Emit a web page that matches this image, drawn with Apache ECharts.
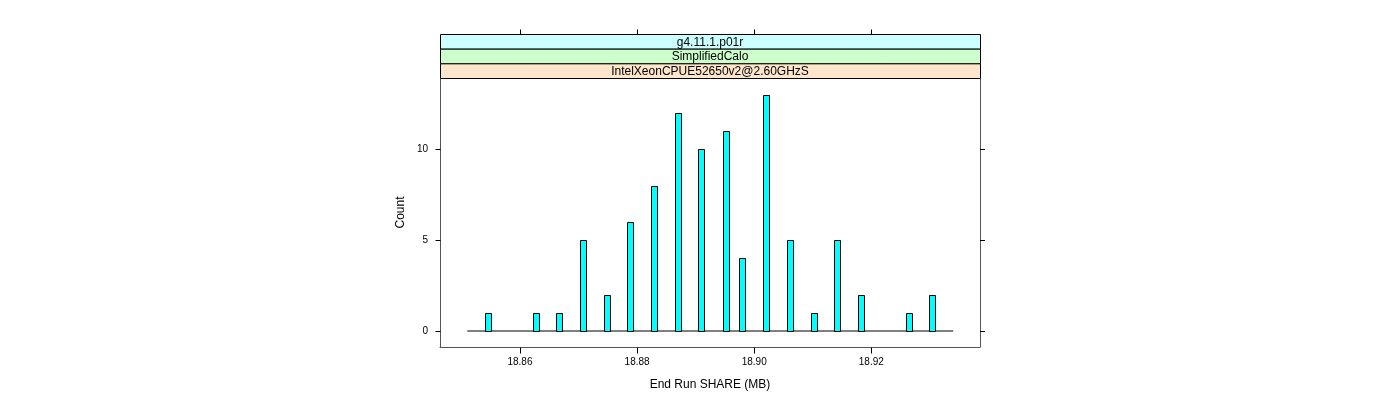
<!DOCTYPE html>
<html>
<head>
<meta charset="utf-8">
<style>html,body{margin:0;padding:0;background:#fff;}#c{width:1400px;height:400px;}</style>
<script src="https://cdn.jsdelivr.net/npm/echarts@6/dist/echarts.min.js"></script>
</head>
<body>
<div id="c"></div>
<script>
// Data
const binCenters = [18.8546, 18.8627, 18.8667, 18.8708, 18.8748, 18.8788, 18.8829, 18.8870, 18.8910,
  18.8951, 18.8980, 18.9021, 18.9062, 18.9102, 18.9142, 18.9183, 18.9264, 18.9304];
const counts = [1, 1, 1, 5, 2, 6, 8, 12, 10, 11, 4, 13, 5, 1, 5, 2, 1, 2];
const binWidth = 0.00102;
const histRange = [18.8510, 18.9340];
const xTicks = [18.86, 18.88, 18.90, 18.92];
const yTicks = [0, 5, 10];
const stripLabels = ['g4.11.1.p01r', 'SimplifiedCalo', 'IntelXeonCPUE52650v2@2.60GHzS'];
const stripColors = ['#ccffff', '#ccffcc', '#ffe5cc'];
const xTitle = 'End Run SHARE (MB)';
const yTitle = 'Count';

const FONT = 'Liberation Sans';
const chart = echarts.init(document.getElementById('c'));

const gridL = 440, gridR = 980, gridT = 78, gridB = 347;
const stripTop = 34.5, stripH = (gridT + 0.5 - stripTop) / 3;
const xMin = 18.84634, xMax = 18.93857, yMin = -0.88, yMax = 13.92;

const graphics = [];
stripLabels.forEach((lab, i) => {
  const y = stripTop + i * stripH;
  graphics.push({
    type: 'rect', shape: { x: gridL + 0.5, y: y, width: gridR - gridL, height: stripH },
    style: { fill: stripColors[i], stroke: '#000', lineWidth: 1 }, z: 10
  });
  graphics.push({
    type: 'text', x: (gridL + gridR) / 2, y: y + stripH / 2 + 0.5,
    style: { text: lab, fill: '#000', font: '12px "' + FONT + '"', align: 'center', verticalAlign: 'middle' }, z: 11
  });
});

const tickStyle = { color: '#000', width: 1 };
const frameLine = { show: true, onZero: false, lineStyle: { color: '#555', width: 1 } };
const hidden = { show: false };

function tickAxis(pos, min, max, ticks, len, offset, line) {
  return {
    type: 'value', min: min, max: max, position: pos, offset: offset || 0,
    axisLine: line || { show: false, onZero: false }, splitLine: hidden,
    axisTick: { show: true, length: len, inside: false, customValues: ticks, lineStyle: tickStyle },
    axisLabel: hidden
  };
}

chart.setOption({
  animation: false,
  grid: { left: gridL, right: 1400 - gridR, top: gridT, bottom: 400 - gridB, show: false },
  graphic: graphics,
  xAxis: [{
    type: 'value', min: xMin, max: xMax, position: 'bottom',
    axisLine: frameLine, splitLine: hidden, axisTick: hidden,
    axisLabel: { show: true, customValues: xTicks, formatter: v => v.toFixed(2), color: '#000', fontFamily: FONT, fontSize: 10, margin: 10 },
    name: xTitle, nameLocation: 'middle', nameGap: 32,
    nameTextStyle: { color: '#000', fontFamily: FONT, fontSize: 12 }
  },
    tickAxis('top', xMin, xMax, xTicks, 5, 43.5)
  ],
  yAxis: [{
    type: 'value', min: yMin, max: yMax, position: 'left',
    axisLine: frameLine, splitLine: hidden, axisTick: hidden,
    axisLabel: { show: true, customValues: yTicks, color: '#000', fontFamily: FONT, fontSize: 10, margin: 12 },
    name: yTitle, nameLocation: 'middle', nameGap: 33, nameRotate: 90,
    nameTextStyle: { color: '#000', fontFamily: FONT, fontSize: 12 }
  },
    tickAxis('right', yMin, yMax, yTicks, 5, 0, frameLine)
  ],
  series: [{
    type: 'line', xAxisIndex: 0, yAxisIndex: 0,
    data: [[histRange[0], 0], [histRange[1], 0]],
    symbol: 'none', lineStyle: { color: '#000', width: 1 }, z: 2, silent: true
  }, {
    type: 'custom', xAxisIndex: 0, yAxisIndex: 0, z: 3,
    data: binCenters.map((c, i) => [c, counts[i]]),
    renderItem: function (params, api) {
      const c = api.value(0), n = api.value(1);
      const p0 = api.coord([c - binWidth / 2, n]);
      const p1 = api.coord([c + binWidth / 2, 0]);
      return {
        type: 'rect',
        shape: { x: Math.round(p0[0]) + 0.5, y: Math.round(p0[1]) + 0.5, width: Math.round(p1[0] - p0[0]), height: Math.round(p1[1]) - Math.round(p0[1]) },
        style: { fill: '#00ffff', stroke: '#000', lineWidth: 1 }
      };
    }
  }]
});

// outward ticks on the bottom (x) and left (y) sides, placed through the axes' own scales
const tickLines = [];
xTicks.forEach(v => {
  const p = chart.convertToPixel({ xAxisIndex: 0, yAxisIndex: 0 }, [v, yMin]);
  const x = Math.round(p[0]) + 0.5, y = Math.round(p[1]) + 0.5;
  tickLines.push({ type: 'line', shape: { x1: x, y1: y, x2: x, y2: y + 6 }, style: { stroke: '#000', lineWidth: 1 }, z: 20 });
});
yTicks.forEach(v => {
  const p = chart.convertToPixel({ xAxisIndex: 0, yAxisIndex: 0 }, [xMin, v]);
  const x = Math.round(p[0]) + 0.5, y = Math.round(p[1]) + 0.5;
  tickLines.push({ type: 'line', shape: { x1: x, y1: y, x2: x - 5, y2: y }, style: { stroke: '#000', lineWidth: 1 }, z: 20 });
});
chart.setOption({ graphic: graphics.concat(tickLines) });
</script>
</body>
</html>
